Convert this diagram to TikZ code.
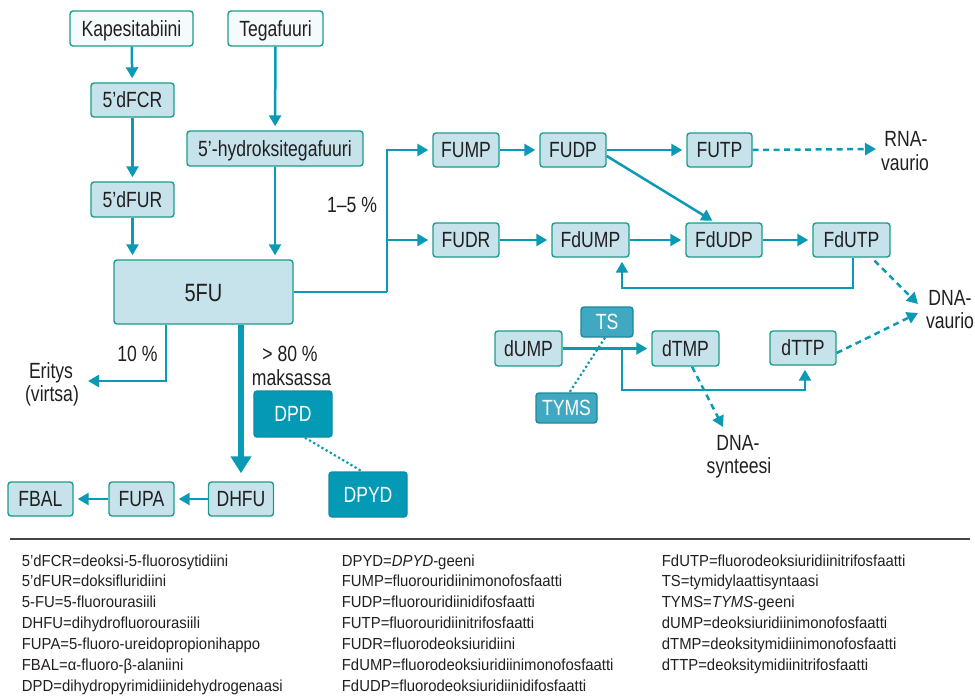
\documentclass[tikz,border=0pt]{standalone}
\usepackage{fontspec}
\setmainfont{Liberation Sans}[FakeStretch=0.93]
\newfontfamily\dgfam{Liberation Sans}[FakeStretch=0.8]
\usetikzlibrary{arrows.meta}
\definecolor{ac}{HTML}{0B9AB6}
\definecolor{bxf}{HTML}{C6E3EB}
\definecolor{bxd}{HTML}{1B9C8D}
\definecolor{topf}{HTML}{F5FBFC}
\definecolor{dk}{HTML}{0499B4}
\definecolor{dkd}{HTML}{0A8EA5}
\definecolor{tsf}{HTML}{40A8C0}
\definecolor{tsd}{HTML}{1A8A9E}
\definecolor{txt}{HTML}{231F20}
\definecolor{rulec}{HTML}{444444}
\newcommand\dgf{\dgfam\fontsize{22}{26}\selectfont}
\newcommand\lgfont{\normalfont\fontsize{16}{19}\selectfont}
\begin{document}
\begin{tikzpicture}[x=1pt,y=-1pt,
  every node/.style={inner sep=0pt, text=txt, font=\dgf},
  bx/.style={draw=bxd, fill=bxf, line width=1.4pt, rounded corners=3pt,
    text height=15.5pt, text depth=0pt, minimum height=34pt},
  topbx/.style={bx, fill=topf},
  darkbx/.style={draw=dkd, fill=dk, text=white, line width=1.4pt, rounded corners=3pt,
    text height=15.5pt, text depth=0pt},
  tsbx/.style={darkbx, draw=tsd, fill=tsf},
  con/.style={draw=ac, line width=2.5pt},
  arr/.style={con, -{Triangle[length=11pt,width=12pt]}, shorten >=4pt},
  thickarr/.style={draw=ac, line width=6pt, -{Triangle[length=17pt,width=20pt]}, shorten >=8pt},
  dsh/.style={arr, dash pattern=on 6pt off 4.5pt},
  dotl/.style={draw=ac, line width=2.2pt, dash pattern=on 2.2pt off 2.6pt},
  lbl/.style={anchor=base},
  lg/.style={font=\lgfont, anchor=base west},
]
\useasboundingbox (0,0) rectangle (975,699);

% top chain
\node[topbx, minimum width=123pt, minimum height=35pt] (kap) at (131.5,28.5) {Kapesitabiini};
\node[topbx, minimum width=95pt, minimum height=35pt] (teg) at (275.5,28.5) {Tegafuuri};
\node[bx, minimum width=83pt] (dfcr) at (132.5,100) {5’dFCR};
\node[bx, minimum width=176pt, minimum height=35pt] (hyd) at (275,148.5) {5’-hydroksitegafuuri};
\node[bx, minimum width=83pt, minimum height=35pt] (dfur) at (132.5,199.5) {5’dFUR};
\node[bx, minimum width=179pt, minimum height=64pt, text height=18pt, font=\dgfam\fontsize{25}{29}\selectfont] (fu) at (203.5,292) {5FU};

% upper right
\node[bx, minimum width=66pt] (fump) at (466,150) {FUMP};
\node[bx, minimum width=66pt] (fudp) at (573,150) {FUDP};
\node[bx, minimum width=65pt] (futp) at (719.5,150) {FUTP};
\node[bx, minimum width=66pt] (fudr) at (466,240) {FUDR};
\node[bx, minimum width=77pt] (fdump) at (590.5,240) {FdUMP};
\node[bx, minimum width=76pt] (fdudp) at (724,240) {FdUDP};
\node[bx, minimum width=77pt] (fdutp) at (851.5,240) {FdUTP};

% thymidine part
\node[bx, minimum width=67pt, minimum height=35pt] (dump) at (528.5,348.5) {dUMP};
\node[bx, minimum width=67pt, minimum height=35pt] (dtmp) at (685.5,348.5) {dTMP};
\node[bx, minimum width=66pt] (dttp) at (803,348) {dTTP};
\node[tsbx, minimum width=52pt, minimum height=30pt] (ts) at (607,322) {TS};
\node[tsbx, minimum width=61pt, minimum height=30pt] (tyms) at (566.5,408) {TYMS};

% lower left
\node[darkbx, minimum width=78pt, minimum height=46pt] (dpd) at (293,414) {DPD};
\node[darkbx, minimum width=78pt, minimum height=45pt] (dpyd) at (368,494.5) {DPYD};
\node[bx, minimum width=65pt] (fbal) at (40.5,499) {FBAL};
\node[bx, minimum width=65pt] (fupa) at (141.5,499) {FUPA};
\node[bx, minimum width=65pt] (dhfu) at (241,499) {DHFU};

% labels
\node[lbl] (p15) at (352,212) {1–5 \%};
\node[lbl] (p10) at (137.5,361) {10 \%};
\node[lbl] (p80) at (290,361) {> 80 \%};
\node[lbl] (maks) at (291.5,385) {maksassa};
\node[lbl] (erit) at (51,378) {Eritys};
\node[lbl] (virt) at (52,401) {(virtsa)};
\node[lbl] (rna1) at (906,146.5) {RNA-};
\node[lbl] (rna2) at (905,170) {vaurio};
\node[lbl] (dna1) at (950,305) {DNA-};
\node[lbl] (dna2) at (950,328) {vaurio};
\node[lbl] (dns1) at (738,450) {DNA-};
\node[lbl] (dns2) at (739,473) {synteesi};

\coordinate (jn) at (387,292);
\coordinate (er) at (88,381);
\coordinate (rnaend) at (876,149);
\coordinate (dv1) at (918,304);
\coordinate (dv2) at (918,313);
\coordinate (dsend) at (723,427);
\coordinate (br) at (622,348.5);

% connectors
\draw[arr] (kap) -- (dfcr);
\draw[arr] (dfcr) -- (dfur);
\draw[arr] (dfur) -- (dfur |- fu.north);
\draw[arr] (teg) -- (hyd);
\draw[arr] (hyd) -- (hyd |- fu.north);
\draw[con] (fu.east) -- (jn);
\draw[arr] (jn) |- (fump.west);
\draw[arr] (jn |- fudr.west) -- (fudr.west);
\draw[arr] (fump) -- (fudp);
\draw[arr] (fudp) -- (futp);
\draw[arr, shorten >=3pt] ([yshift=-6pt]fudp.east) -- ([xshift=-9pt]fdudp.north);
\draw[dsh, shorten >=0pt] (futp.east) -- (rnaend);
\draw[arr] (fudr) -- (fdump);
\draw[arr] (fdump) -- (fdudp);
\draw[arr] (fdudp) -- (fdutp);
\draw[arr] ([xshift=1.5pt]fdutp.south) -- ([xshift=1.5pt]fdutp.south |- 0,288) -| ([xshift=31.5pt]fdump.south);
\draw[dsh, shorten >=0pt] ([xshift=23pt,yshift=-3pt]fdutp.south) -- (dv1);
\draw[dsh, shorten >=0pt] ([yshift=-5pt]dttp.east) -- (dv2);
\draw[arr] (dump) -- (dtmp);
\draw[arr] (br) -- (622,390) -| ([xshift=2pt]dttp.south);
\draw[dotl] ([xshift=-2pt]ts.south) -- ([xshift=3pt]tyms.north);
\draw[dsh, shorten >=0pt] ([xshift=6.5pt]dtmp.south) -- (dsend);

\draw[arr, shorten >=0pt] (fu.south -| 166,0) |- (er);
\draw[thickarr] (fu.south -| dhfu.north) -- (dhfu.north);
\draw[dotl] ([xshift=12pt]dpd.south) -- ([xshift=-6pt]dpyd.north);
\draw[arr] (dhfu) -- (fupa);
\draw[arr] (fupa) -- (fbal);

% legend
\draw[rulec, line width=1.5pt] (10,539) -- (970,539);
\foreach \t [count=\i] in {5’dFCR=deoksi-5-fluorosytidiini, 5’dFUR=doksifluridiini, 5-FU=5-fluorourasiili, DHFU=dihydrofluorourasiili, FUPA=5-fluoro-ureidopropionihappo, FBAL=α-fluoro-β-alaniini, DPD=dihydropyrimidiinidehydrogenaasi}
  \node[lg] (la\i) at (21.7,{566+(\i-1)*20.95}) {\t};
\foreach \t [count=\i] in {DPYD=\textit{DPYD}-geeni, FUMP=fluorouridiinimonofosfaatti, FUDP=fluorouridiinidifosfaatti, FUTP=fluorouridiinitrifosfaatti, FUDR=fluorodeoksiuridiini, FdUMP=fluorodeoksiuridiinimonofosfaatti, FdUDP=fluorodeoksiuridiinidifosfaatti}
  \node[lg] (lb\i) at (341.7,{566+(\i-1)*20.95}) {\t};
\foreach \t [count=\i] in {FdUTP=fluorodeoksiuridiinitrifosfaatti, TS=tymidylaattisyntaasi, TYMS=\textit{TYMS}-geeni, dUMP=deoksiuridiinimonofosfaatti, dTMP=deoksitymidiinimonofosfaatti, dTTP=deoksitymidiinitrifosfaatti}
  \node[lg] (lc\i) at (661.7,{566+(\i-1)*20.95}) {\t};
\end{tikzpicture}
\end{document}
